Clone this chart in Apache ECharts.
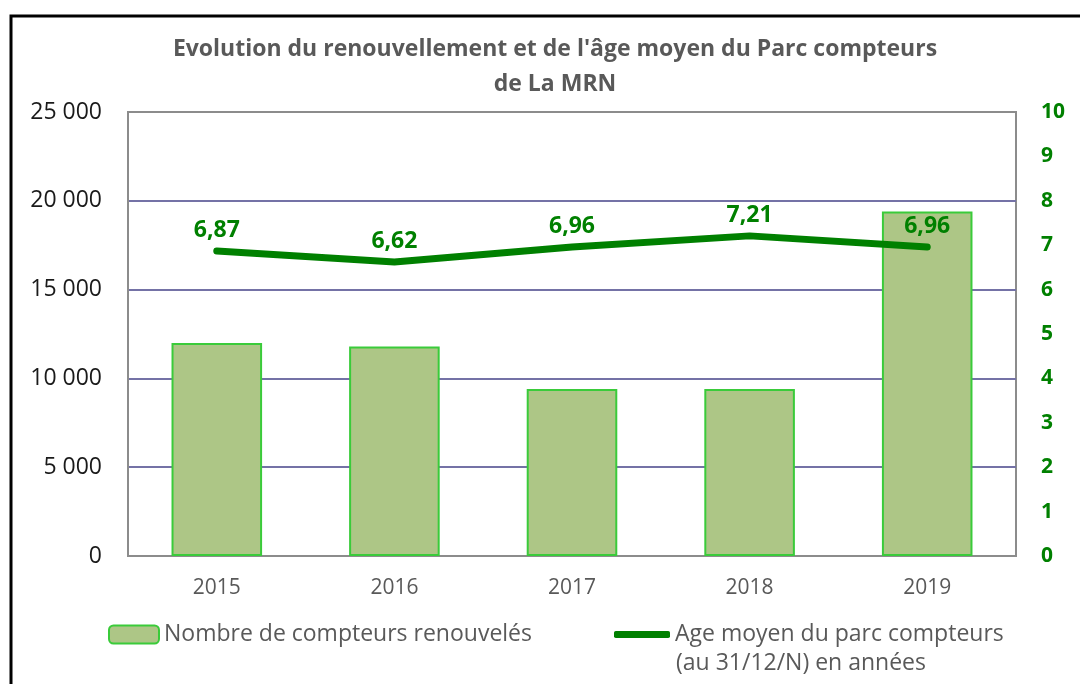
<!DOCTYPE html>
<html>
<head>
<meta charset="utf-8">
<script src="https://cdn.jsdelivr.net/npm/echarts@6/dist/echarts.min.js"></script>
<style>
  html, body { margin: 0; padding: 0; background: #fff; }
  #chart { width: 1080px; height: 684px; }
</style>
</head>
<body>
<div id="chart"></div>
<script>
// chart data
const years = ['2015', '2016', '2017', '2018', '2019'];
const compteursRenouveles = [12000, 11800, 9400, 9400, 19400];
const ageMoyen = [6.87, 6.62, 6.96, 7.21, 6.96];

const FONT = '"Open Sans", Lato, sans-serif';
const GREEN = '#008000';

const chart = echarts.init(document.getElementById('chart'));

const option = {
  backgroundColor: '#fff',
  animation: false,
  title: {
    text: "Evolution du renouvellement et de l'âge moyen du Parc compteurs\nde La MRN",
    left: 550,
    textAlign: 'center',
    top: 27,
    textStyle: {
      fontFamily: FONT,
      fontSize: 23,
      fontWeight: 'bold',
      color: '#595959',
      lineHeight: 35,
    },
  },
  grid: {
    left: 128,
    right: 64,
    top: 112,
    bottom: 128,
    show: true,
    borderColor: '#8c8c8c',
    borderWidth: 2,
  },
  legend: [
    {
      data: ['Nombre de compteurs renouvelés'],
      left: 103,
      top: 618,
      itemWidth: 50,
      itemHeight: 18,
      itemGap: 10,
      textStyle: { fontFamily: FONT, fontSize: 23, color: '#595959' },
    },
    {
      data: [{ name: 'Age moyen du parc compteurs', icon: 'roundRect' }],
      left: 609,
      top: 618,
      itemWidth: 56,
      itemHeight: 7,
      textStyle: { fontFamily: FONT, fontSize: 23, color: '#595959' },
    },
  ],
  graphic: [
    {
      // outer frame of the chart
      type: 'rect',
      shape: { x: 11, y: 16, width: 1200, height: 800 },
      style: { fill: 'none', stroke: '#000', lineWidth: 3 },
      silent: true,
    },
    {
      type: 'text',
      left: 676,
      top: 652,
      style: {
        text: '(au 31/12/N) en années',
        font: '23px ' + FONT,
        fill: '#595959',
      },
    },
  ],
  xAxis: {
    type: 'category',
    data: years,
    axisLine: { lineStyle: { color: '#8c8c8c', width: 2 } },
    axisTick: { show: false },
    axisLabel: {
      margin: 22,
      fontFamily: FONT,
      fontSize: 21,
      color: '#595959',
    },
  },
  yAxis: [
    {
      type: 'value',
      min: 0,
      max: 25000,
      interval: 5000,
      axisLine: { show: true, lineStyle: { color: '#8c8c8c', width: 2 } },
      axisTick: { show: false },
      splitLine: {
        lineStyle: {
          color: ['#8c8c8c', '#7472a6', '#7472a6', '#7472a6', '#7472a6', '#8c8c8c'],
          width: 2,
        },
      },
      axisLabel: {
        margin: 26,
        fontFamily: FONT,
        fontSize: 23,
        color: '#1a1a1a',
        formatter: (v) => String(v).replace(/\B(?=(\d{3})+(?!\d))/g, ' '),
      },
    },
    {
      type: 'value',
      min: 0,
      max: 10,
      interval: 1,
      position: 'right',
      axisLine: { show: false },
      axisTick: { show: false },
      splitLine: { show: false },
      axisLabel: {
        margin: 25,
        fontFamily: FONT,
        fontSize: 21,
        fontWeight: 'bold',
        color: GREEN,
      },
    },
  ],
  series: [
    {
      name: 'Nombre de compteurs renouvelés',
      type: 'bar',
      data: compteursRenouveles,
      barCategoryGap: '49%',
      itemStyle: {
        color: '#adc686',
        borderColor: '#3acb3a',
        borderWidth: 2,
      },
    },
    {
      name: 'Age moyen du parc compteurs',
      type: 'line',
      yAxisIndex: 1,
      data: ageMoyen,
      symbol: 'circle',
      symbolSize: 6,
      lineStyle: { color: GREEN, width: 7, cap: 'round', join: 'round' },
      itemStyle: { color: GREEN },
      label: {
        show: true,
        position: 'top',
        distance: 6,
        fontFamily: FONT,
        fontSize: 23,
        fontWeight: 'bold',
        color: GREEN,
        formatter: (p) => p.value.toFixed(2).replace('.', ','),
      },
    },
  ],
};

chart.setOption(option);
window.addEventListener('resize', () => chart.resize());
</script>
</body>
</html>
